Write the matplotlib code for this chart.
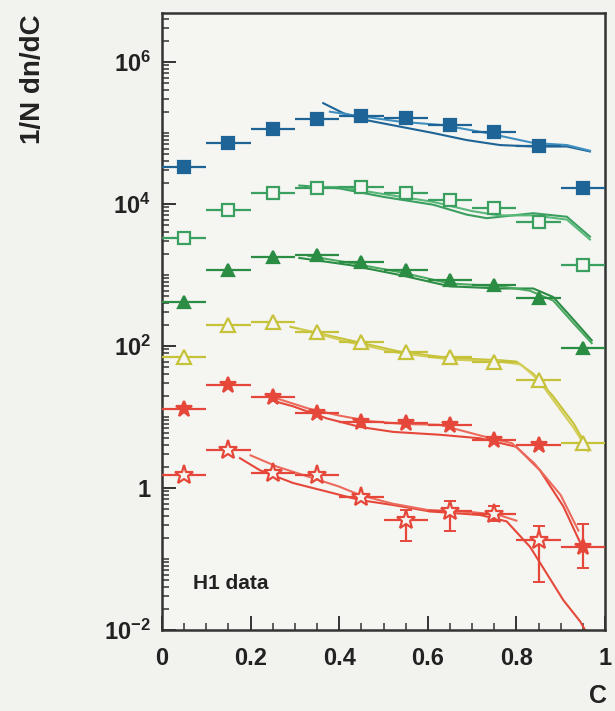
import numpy as np
import matplotlib
matplotlib.use("Agg")
import matplotlib.pyplot as plt
from matplotlib.ticker import LogLocator, FixedLocator, NullFormatter

plt.rcParams['font.family'] = ['Liberation Sans', 'DejaVu Sans']
plt.rcParams['mathtext.fontset'] = 'custom'
plt.rcParams['mathtext.rm'] = 'Liberation Sans:bold'
plt.rcParams['mathtext.bf'] = 'Liberation Sans:bold'
plt.rcParams['mathtext.default'] = 'bf'

# ---- data (log10 of 1/N dn/dC) ----
c_bins = [0.05, 0.15, 0.25, 0.35, 0.45, 0.55, 0.65, 0.75, 0.85, 0.95]
half_width = 0.05

log_blue_sq = [4.52, 4.86, 5.06, 5.20, 5.24, 5.21, 5.11, 5.01, 4.82, 4.22]
log_green_osq = [3.52, 3.92, 4.15, 4.23, 4.24, 4.16, 4.06, 3.95, 3.75, 3.14]
log_green_tri = [2.62, 3.07, 3.25, 3.28, 3.18, 3.07, 2.93, 2.86, 2.68, 1.97]
log_yellow_otri = [1.85, 2.30, 2.34, 2.20, 2.06, 1.92, 1.85, 1.77, 1.52, 0.63]
log_red_star = [1.11, 1.45, 1.28, 1.06, 0.93, 0.92, 0.89, 0.68, 0.61, -0.83]
log_red_ostar_c = [0.05, 0.15, 0.25, 0.35, 0.45, 0.55, 0.65, 0.75, 0.85]
log_red_ostar = [0.18, 0.54, 0.21, 0.18, -0.12, -0.45, -0.33, -0.36, -0.73]

# asymmetric vertical errors (log units: up, down)
red_ostar_err_up = [0, 0, 0, 0, 0, 0.14, 0.14, 0.1, 0.19]
red_ostar_err_dn = [0, 0, 0, 0, 0, 0.30, 0.28, 0.1, 0.59]
red_star_err_up = [0, 0, 0, 0, 0, 0, 0, 0, 0, 0.32]
red_star_err_dn = [0, 0, 0, 0, 0, 0, 0, 0, 0, 0.30]

# theory curves (two per data set): C and log10 values
blue_c1 = [0.364, 0.409, 0.462, 0.537, 0.612, 0.688, 0.763, 0.838, 0.914, 0.966]
blue_v1 = [5.42, 5.28, 5.18, 5.09, 5.00, 4.90, 4.83, 4.81, 4.81, 4.74]
blue_c2 = [0.379, 0.432, 0.537, 0.635, 0.733, 0.838, 0.914, 0.966]
blue_v2 = [5.30, 5.25, 5.16, 5.11, 5.00, 4.86, 4.83, 4.75]

gosq_c1 = [0.31, 0.40, 0.50, 0.612, 0.688, 0.733, 0.838, 0.914, 0.966]
gosq_v1 = [4.26, 4.22, 4.10, 3.99, 3.85, 3.80, 3.87, 3.82, 3.54]
gosq_c2 = [0.33, 0.40, 0.50, 0.612, 0.70, 0.76, 0.838, 0.914, 0.966]
gosq_v2 = [4.24, 4.24, 4.14, 4.03, 3.90, 3.84, 3.84, 3.78, 3.50]

gtri_c1 = [0.31, 0.424, 0.537, 0.65, 0.763, 0.838, 0.883, 0.929, 0.97]
gtri_v1 = [3.24, 3.14, 3.00, 2.84, 2.81, 2.81, 2.69, 2.37, 2.08]
gtri_c2 = [0.33, 0.424, 0.537, 0.65, 0.763, 0.83, 0.883, 0.929, 0.97]
gtri_v2 = [3.27, 3.17, 3.04, 2.88, 2.84, 2.78, 2.64, 2.32, 2.04]

yel_c1 = [0.29, 0.424, 0.537, 0.65, 0.763, 0.80, 0.838, 0.883, 0.929, 0.959]
yel_v1 = [2.27, 2.08, 1.92, 1.83, 1.80, 1.78, 1.61, 1.29, 0.91, 0.58]
yel_c2 = [0.31, 0.424, 0.537, 0.65, 0.763, 0.81, 0.85, 0.89, 0.93, 0.962]
yel_v2 = [2.24, 2.05, 1.90, 1.81, 1.78, 1.74, 1.52, 1.18, 0.84, 0.52]

rst_c1 = [0.244, 0.296, 0.372, 0.447, 0.522, 0.627, 0.718, 0.80, 0.853, 0.906, 0.944]
rst_v1 = [1.24, 1.15, 0.98, 0.86, 0.79, 0.75, 0.70, 0.58, 0.25, -0.26, -0.77]
rst_c2 = [0.26, 0.33, 0.40, 0.47, 0.55, 0.627, 0.718, 0.79, 0.84, 0.90, 0.94]
rst_v2 = [1.26, 1.12, 1.02, 0.94, 0.90, 0.89, 0.74, 0.63, 0.35, -0.10, -0.60]

rost_c1 = [0.176, 0.221, 0.296, 0.372, 0.447, 0.522, 0.605, 0.718, 0.778, 0.831, 0.868, 0.906, 0.944, 0.955]
rost_v1 = [0.42, 0.25, 0.07, -0.05, -0.17, -0.24, -0.33, -0.38, -0.47, -0.83, -1.20, -1.58, -1.88, -2.0]
rost_c2 = [0.20, 0.26, 0.33, 0.40, 0.447, 0.52, 0.60, 0.70, 0.76, 0.80]
rost_v2 = [0.46, 0.30, 0.16, 0.02, -0.10, -0.22, -0.31, -0.34, -0.38, -0.46]

xtick_vals = [0, 0.2, 0.4, 0.6, 0.8, 1.0]
xtick_labels = ['0', '0.2', '0.4', '0.6', '0.8', '1']
ytick_vals = [1e-2, 1, 1e2, 1e4, 1e6]
ytick_labels = [r'$10^{-2}$', '1', r'$10^{2}$', r'$10^{4}$', r'$10^{6}$']

# ---- style ----
BLUE = '#1f6496'
GREEN_O = '#3a9f5f'
GREEN_T = '#2b8c43'
YELLOW = '#c6c23a'
RED = '#e5483a'
BG = '#f2f2ee'
AXBG = '#f5f5f2'

fig = plt.figure(figsize=(6.15, 7.11), dpi=100, facecolor=BG)
ax = fig.add_axes([162/615, 1-630/711, (605-162)/615, (630-13)/711])
ax.set_facecolor(AXBG)
ax.set_yscale('log')
ax.set_xlim(0, 1)
ax.set_ylim(1e-2, 10**6.69)

def p(v):
    return 10**np.asarray(v, dtype=float)

def draw_curve(c, v, color):
    ax.plot(c, p(v), color=color, lw=1.5, zorder=2)

draw_curve(blue_c1, blue_v1, BLUE)
draw_curve(blue_c2, blue_v2, '#3f8fbf')
draw_curve(gosq_c1, gosq_v1, GREEN_O)
draw_curve(gosq_c2, gosq_v2, '#5ab97a')
draw_curve(gtri_c1, gtri_v1, GREEN_T)
draw_curve(gtri_c2, gtri_v2, '#4aa860')
draw_curve(yel_c1, yel_v1, YELLOW)
draw_curve(yel_c2, yel_v2, '#d4cf5a')
draw_curve(rst_c1, rst_v1, RED)
draw_curve(rst_c2, rst_v2, '#ec6a5c')
draw_curve(rost_c1, rost_v1, RED)
draw_curve(rost_c2, rost_v2, '#ec6a5c')

def draw_points(c, v, color, marker, filled, ms, up=None, dn=None):
    y = p(v)
    ax.errorbar(c, y, xerr=half_width, fmt='none', ecolor=color,
                elinewidth=1.6, capsize=0, zorder=3)
    if up is not None:
        lo = y - p(np.asarray(v) - np.asarray(dn))
        hi = p(np.asarray(v) + np.asarray(up)) - y
        ax.errorbar(c, y, yerr=[lo, hi], fmt='none', ecolor=color,
                    elinewidth=1.6, capsize=4, capthick=1.4, zorder=3)
    ax.plot(c, y, linestyle='none', marker=marker, ms=ms, mew=1.6,
            mec=color, mfc=color if filled else AXBG, zorder=4)

draw_points(c_bins, log_blue_sq, BLUE, 's', True, 8)
draw_points(c_bins, log_green_osq, GREEN_O, 's', False, 8.5)
draw_points(c_bins, log_green_tri, GREEN_T, '^', True, 8)
draw_points(c_bins, log_yellow_otri, YELLOW, '^', False, 9.5)
draw_points(c_bins, log_red_star, RED, '*', True, 12, red_star_err_up, red_star_err_dn)
draw_points(log_red_ostar_c, log_red_ostar, RED, '*', False, 14, red_ostar_err_up, red_ostar_err_dn)

# ---- axes ----
for s in ['left', 'bottom', 'right', 'top']:
    ax.spines[s].set_linewidth(1.8)
    ax.spines[s].set_color('#333333')

ax.yaxis.set_major_locator(FixedLocator(ytick_vals))
ax.set_yticklabels(ytick_labels)
ax.yaxis.set_minor_locator(LogLocator(base=10, subs=np.arange(1, 10), numticks=30))
ax.yaxis.set_minor_formatter(NullFormatter())

ax.xaxis.set_major_locator(FixedLocator(xtick_vals))
ax.set_xticklabels(xtick_labels)
ax.xaxis.set_minor_locator(FixedLocator(np.arange(0.05, 1.0, 0.05)))

ax.tick_params(axis='both', which='major', direction='in', length=10, width=1.4,
               colors='#333333', labelsize=17, labelcolor='#222222')
ax.tick_params(axis='both', which='minor', direction='in', length=5, width=1.1, colors='#333333')
ax.tick_params(axis='x', which='major', pad=12)
ax.tick_params(axis='y', which='major', pad=8)
for lab in ax.get_xticklabels() + ax.get_yticklabels():
    lab.set_fontweight('bold')

fig.text(33/615, 1-14/711, '1/N dn/dC', rotation=90, ha='center', va='top',
         fontsize=20, fontweight='bold', color='#222222')
fig.text(598/615, 1-696/711, 'C', ha='center', va='center',
         fontsize=18, fontweight='bold', color='#222222')
ax.text(0.07, 0.075, 'H1 data', transform=ax.transAxes, ha='left', va='center',
        fontsize=15, fontweight='bold', color='#222222')

fig.savefig('out.png', dpi=100, facecolor=BG)
